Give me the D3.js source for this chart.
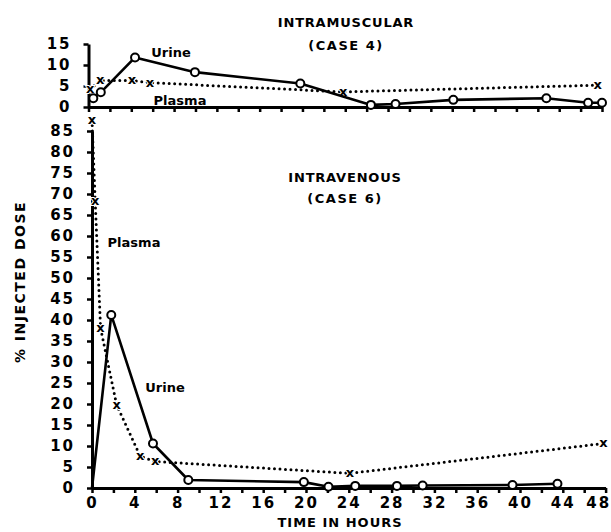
<!DOCTYPE html>
<html>
<head>
<meta charset="utf-8">
<script src="https://cdn.jsdelivr.net/npm/d3@7"></script>
<style>
  body { margin: 0; background: #fff; }
  svg { display: block; }
</style>
</head>
<body>
<script>
// Intramuscular (case 4)
const imUrineHours = [0.45, 1.15, 4.35, 9.95, 19.8, 26.4, 28.7, 34.1, 42.8, 46.7, 48.0];
const imUrine      = [2.1, 3.5, 11.8, 8.3, 5.6, 0.5, 0.7, 1.7, 2.1, 1.0, 1.0];
const imPlasmaHours = [0.15, 1.1, 4.05, 5.75, 23.8, 47.6];
const imPlasma      = [4.2, 6.3, 6.3, 5.8, 3.6, 5.2];

// Intravenous (case 6)
const ivUrineHours = [0, 1.8, 5.7, 9.0, 19.8, 22.1, 24.6, 28.5, 30.9, 39.3, 43.5];
const ivUrine      = [0, 41.2, 10.6, 1.9, 1.4, 0.3, 0.5, 0.5, 0.6, 0.7, 1.0];
const ivPlasmaHours = [0, 0.3, 0.8, 2.3, 4.5, 5.9, 24.1, 36.5, 47.8];
const ivPlasma      = [87.6, 68.2, 38.1, 19.8, 7.6, 6.3, 3.5, 7.2, 10.6];

const hourTicks = d3.range(0, 49, 2);
const topTicks = [0, 5, 10, 15];
const bottomTicks = d3.range(0, 86, 5);

const width = 611, height = 532;
const font = "'DejaVu Sans', sans-serif";

const svg = d3.select("body").append("svg")
    .attr("width", width)
    .attr("height", height)
    .attr("font-family", font);

// scales
const xTop = d3.scaleLinear([0, 48], [88.5, 602]);
const yTop = d3.scaleLinear([0, 15], [107, 44]);
const xBot = d3.scaleLinear([0, 48], [92, 605.6]);
const yBot = d3.scaleLinear([0, 85], [488, 131]);

const zip = (hs, vs) => hs.map((h, i) => ({ h, v: vs[i] }));

function styleAxis(g) {
    g.select(".domain").attr("stroke", "#000").attr("stroke-width", 3);
    g.selectAll(".tick line").attr("stroke", "#000").attr("stroke-width", 2.5);
    g.selectAll(".tick text")
        .attr("fill", "#000")
        .attr("font-family", font)
        .attr("font-weight", "bold")
        .attr("font-size", 15)
        .attr("letter-spacing", 2);
}

// top panel axes
svg.append("g")
    .attr("transform", `translate(0,${yTop(0)})`)
    .call(d3.axisBottom(xTop).tickValues(hourTicks).tickSize(5).tickSizeOuter(0).tickFormat(""))
    .call(styleAxis);

svg.append("g")
    .attr("transform", `translate(${xTop(0)},0)`)
    .call(d3.axisLeft(yTop).tickValues(topTicks).tickSize(5).tickSizeOuter(0).tickPadding(12))
    .call(styleAxis);

// bottom panel axes
const xAxisBot = svg.append("g")
    .attr("transform", `translate(0,${yBot(0)})`)
    .call(d3.axisBottom(xBot).tickValues(hourTicks).tickSize(5).tickSizeOuter(0).tickPadding(4)
        .tickFormat(d => d % 4 === 0 ? d : ""))
    .call(styleAxis);
// last label sits against the page edge
xAxisBot.selectAll(".tick text").filter(d => d === 48)
    .attr("text-anchor", "end")
    .attr("dx", 5);

svg.append("g")
    .attr("transform", `translate(${xBot(0)},0)`)
    .call(d3.axisLeft(yBot).tickValues(bottomTicks).tickSize(5).tickSizeOuter(0).tickPadding(12))
    .call(styleAxis);

// series drawing
function drawUrine(data, x, y) {
    svg.append("path")
        .datum(data)
        .attr("fill", "none")
        .attr("stroke", "#000")
        .attr("stroke-width", 2.6)
        .attr("stroke-linejoin", "round")
        .attr("d", d3.line().x(d => x(d.h)).y(d => y(d.v)));
    svg.append("g")
        .selectAll("circle")
        .data(data.filter(d => d.h > 0))
        .join("circle")
        .attr("cx", d => x(d.h))
        .attr("cy", d => y(d.v))
        .attr("r", 4)
        .attr("fill", "#fff")
        .attr("stroke", "#000")
        .attr("stroke-width", 2);
}

function drawPlasma(data, x, y, marked) {
    svg.append("path")
        .datum(data)
        .attr("fill", "none")
        .attr("stroke", "#000")
        .attr("stroke-width", 3)
        .attr("stroke-linecap", "round")
        .attr("stroke-dasharray", "0 5.5")
        .attr("d", d3.line().x(d => x(d.h)).y(d => y(d.v)));
    svg.append("g")
        .selectAll("text")
        .data(data.filter((d, i) => marked.includes(i)))
        .join("text")
        .attr("x", d => x(d.h))
        .attr("y", d => y(d.v))
        .attr("dy", "0.3em")
        .attr("text-anchor", "middle")
        .attr("font-size", 13)
        .attr("font-weight", "bold")
        .attr("paint-order", "stroke")
        .attr("stroke", "#fff")
        .attr("stroke-width", 2)
        .text("x");
}

drawPlasma(zip(imPlasmaHours, imPlasma), xTop, yTop, [0, 1, 2, 3, 4, 5]);
drawUrine(zip(imUrineHours, imUrine), xTop, yTop);
drawPlasma(zip(ivPlasmaHours, ivPlasma), xBot, yBot, [0, 1, 2, 3, 4, 5, 6, 8]);
drawUrine(zip(ivUrineHours, ivUrine), xBot, yBot);

// text labels
function label(txt, x, y, opts = {}) {
    svg.append("text")
        .attr("x", x)
        .attr("y", y)
        .attr("text-anchor", opts.anchor || "middle")
        .attr("font-size", opts.size || 14)
        .attr("font-weight", opts.weight || "bold")
        .attr("letter-spacing", opts.spacing || 0)
        .attr("transform", opts.rotate ? `rotate(-90,${x},${y})` : null)
        .text(txt);
}

label("INTRAMUSCULAR", 346, 27, { size: 13, spacing: 0.8 });
label("(CASE 4)", 346, 50, { size: 13, spacing: 1.5 });
label("INTRAVENOUS", 345, 182, { size: 13, spacing: 0.8 });
label("(CASE 6)", 345, 203, { size: 13, spacing: 1.5 });

label("Urine", 171, 57, { size: 13 });
label("Plasma", 180, 105, { size: 13 });
label("Plasma", 134, 247, { size: 13 });
label("Urine", 165, 392, { size: 13 });

label("TIME IN HOURS", 340, 527, { size: 13, spacing: 1 });
label("% INJECTED DOSE", 25, 282, { size: 14, spacing: 1.5, rotate: true });
</script>
</body>
</html>
